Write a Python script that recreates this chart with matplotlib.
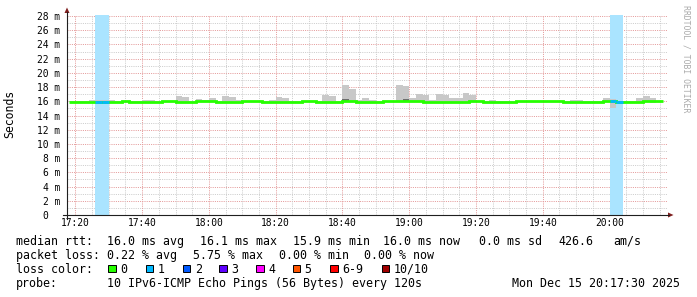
import matplotlib

matplotlib.use("Agg")
import matplotlib.pyplot as plt
import numpy as np
from matplotlib.patches import Polygon, Rectangle
from matplotlib.transforms import ScaledTranslation

MONO = "DejaVu Sans Mono"

# x axis in minutes after 17:00, one sample every 120 s
FIRST_START = 18          # first step starts 17:18
STEP_MIN = 2

# median rtt per step (ms)
MEDIAN = [
    15.95, 15.95, 15.95, 15.95, 15.95, 15.95, 15.9, 15.9, 16.1, 15.9,
    15.9, 15.9, 15.9, 15.9, 16.05, 16.05, 15.9, 15.9, 15.9, 16.05,
    16.05, 16.05, 15.9, 15.9, 15.9, 15.9, 16.05, 16.05, 16.05, 15.9,
    15.9, 15.9, 15.9, 15.9, 15.9, 16.05, 16.05, 15.9, 15.9, 15.9,
    15.9, 16.05, 16.05, 15.9, 15.9, 15.9, 15.9, 16.05, 16.05, 16.05,
    16.05, 16.05, 16.05, 15.9, 15.9, 15.9, 15.9, 15.9, 15.9, 15.9,
    16.05, 16.05, 15.9, 15.9, 15.9, 15.9, 15.9, 16.05, 16.05, 16.05,
    16.05, 16.05, 16.05, 16.05, 15.9, 15.9, 15.9, 15.9, 15.9, 15.9,
    16.05, 16.1, 15.9, 15.9, 15.9, 15.9, 16.05, 16.05, 16.05,
]
# smoke: slowest / fastest ping of each step (ms)
SMOKE_MAX = [
    16.1, 16.1, 16.1, 16.2, 16.2, 16.2, 16.2, 16.1, 16.1, 16.1,
    16.1, 16.2, 16.2, 16.1, 16.1, 16.1, 16.8, 16.6, 16.1, 16.3,
    16.2, 16.4, 16.1, 16.8, 16.6, 16.2, 16.1, 16.1, 16.1, 16.1,
    16.2, 16.6, 16.5, 16.1, 16.1, 16.1, 16.1, 16.1, 16.9, 16.8,
    16.1, 18.3, 17.7, 16.2, 16.45, 16.2, 16.1, 16.1, 16.1, 18.3,
    18.15, 16.5, 17.0, 16.9, 16.2, 17.0, 16.9, 16.4, 16.4, 17.2,
    16.9, 16.1, 16.1, 16.2, 16.1, 16.1, 16.1, 16.1, 16.1, 16.1,
    16.1, 16.1, 16.1, 16.1, 16.1, 16.2, 16.2, 16.1, 16.1, 16.1,
    16.4, 16.3, 16.1, 16.1, 16.1, 16.5, 16.7, 16.5, 16.1,
]
SMOKE_MIN = [15.85] * 81 + [15.0] + [15.85] * 5 + [15.8, 15.85]
# darker inner smoke band, only where it shows
DARK_STEP = [41, 50]
DARK_LO = [16.0, 16.0]
DARK_HI = [16.3, 16.3]
# lost pings out of 10 per step
LOSS = [0] * 89
LOSS[4] = LOSS[5] = 1
LOSS[81] = LOSS[82] = 1

LOSS_LABELS = ["0", "1", "2", "3", "4", "5", "6-9", "10/10"]
LOSS_COLORS = ["#26ff00", "#00b8ff", "#0059ff", "#5e00ff", "#ff00ff",
               "#ff5500", "#ff0000", "#a00000"]
LOSS_BAR = "#aae4ff"

TICK_MIN = [20, 40, 60, 80, 100, 120, 140, 160, 180]
TICK_LABELS = ["17:20", "17:40", "18:00", "18:20", "18:40",
               "19:00", "19:20", "19:40", "20:00"]
Y_TICKS = list(range(0, 29, 2))

W, H = 697, 297
fig = plt.figure(figsize=(W / 100, H / 100), dpi=100, facecolor="white")
ax = fig.add_axes([67 / W, (H - 215) / H, 601 / W, 200.4 / H])
ax.set_xlim(17.5, 197.5)
ax.set_ylim(0, 28.2)
for s in ax.spines.values():
    s.set_visible(False)

# grid: minor grey every 1 ms / 5 min, major red every 2 ms / 20 min
grid_kw = dict(lw=0.72, linestyle=(0, (1, 1.2)), zorder=0, snap=True)
for v in range(1, 29):
    ax.axhline(v, color="#e49a9a" if v % 2 == 0 else "#cccccc", **grid_kw)
for m in range(20, 197, 5):
    ax.axvline(m, color="#e49a9a" if m % 20 == 0 else "#cccccc", **grid_kw)

starts = FIRST_START + STEP_MIN * np.arange(len(MEDIAN))
edges = np.append(starts, starts[-1] + STEP_MIN)

for t, lost in zip(starts, LOSS):
    if lost:
        ax.axvspan(t, t + STEP_MIN, color=LOSS_BAR, lw=0, zorder=1)

smax, smin = np.array(SMOKE_MAX), np.array(SMOKE_MIN)
ax.bar(starts, smax - smin, bottom=smin, width=STEP_MIN, align="edge",
       color="#c8c8c8", lw=0, zorder=2)
ax.bar(starts[DARK_STEP], np.subtract(DARK_HI, DARK_LO), bottom=DARK_LO,
       width=STEP_MIN, align="edge", color="#6e6e6e", lw=0, zorder=3)

ax.stairs(MEDIAN, edges, baseline=None, color=LOSS_COLORS[0], lw=2.0, zorder=4)
for i, lost in enumerate(LOSS):
    if lost:
        ax.stairs(MEDIAN[i:i + 1], edges[i:i + 2], baseline=None,
                  color=LOSS_COLORS[lost], lw=2.0, zorder=5)

ax.set_xticks(TICK_MIN, TICK_LABELS)
ax.set_yticks(Y_TICKS, [f"{v} m" if v else "0" for v in Y_TICKS])
ax.tick_params(length=0, labelsize=6.9, pad=2.5)
ax.tick_params(axis="y", pad=5)
for lab in ax.get_xticklabels() + ax.get_yticklabels():
    lab.set_family(MONO)
zero = ax.get_yticklabels()[0]
zero.set_transform(zero.get_transform() + ScaledTranslation(-11.6 / 100, 0, fig.dpi_scale_trans))

# overlay in pixel coords for axes, arrows and legend
ov = fig.add_axes([0, 0, 1, 1])
ov.set_xlim(0, W)
ov.set_ylim(H, 0)
ov.axis("off")
ov.patch.set_visible(False)
ov.plot([63, 669], [215, 215], color="#1f1f1f", lw=0.8)
ov.plot([67, 67], [219, 12], color="#1f1f1f", lw=0.8)
ov.add_patch(Polygon([[668, 212.5], [673.5, 215], [668, 217.5]], color="#801f1f", lw=0))
ov.add_patch(Polygon([[64.5, 13], [67, 7.5], [69.5, 13]], color="#801f1f", lw=0))

fig.text(10 / W, 1 - 114 / H, "Seconds", rotation=90, ha="center", va="center",
         family=MONO, fontsize=8.3)
fig.text(686 / W, 1 - 59 / H, "RRDTOOL / TOBI OETIKER", rotation=270,
         ha="center", va="center", family=MONO, fontsize=5.9, color="#aaaaaa")


def legend_text(x, y, s, ha="left"):
    ov.text(x, y, s, family=MONO, fontsize=8.4, ha=ha, va="baseline")


row1 = [("median rtt:", 16), ("16.0 ms avg", 107), ("16.1 ms max", 199.5),
        ("15.9 ms min", 293), ("16.0 ms now", 383), ("0.0 ms sd", 479),
        ("426.6", 558), ("am/s", 613.5)]
row2 = [("packet loss:", 16), ("0.22 % avg", 107), ("5.75 % max", 193),
        ("0.00 % min", 279), ("0.00 % now", 364.5)]
for s, x in row1:
    legend_text(x, 245, s)
for s, x in row2:
    legend_text(x, 259, s)

legend_text(16, 273, "loss color:")
square_x = [108.3, 145.7, 182.7, 219, 256, 292.7, 330, 381.7]
for x, lab, col in zip(square_x, LOSS_LABELS, LOSS_COLORS):
    ov.add_patch(Rectangle((x, 264.5), 7.5, 7.5, facecolor=col, edgecolor="black", lw=0.7))
    legend_text(x + 12, 273, lab)

legend_text(16, 287, "probe:")
legend_text(107, 287, "10 IPv6-ICMP Echo Pings (56 Bytes) every 120s")
legend_text(680.5, 287, "Mon Dec 15 20:17:30 2025", ha="right")

fig.savefig("out.png", dpi=100, facecolor="white")
